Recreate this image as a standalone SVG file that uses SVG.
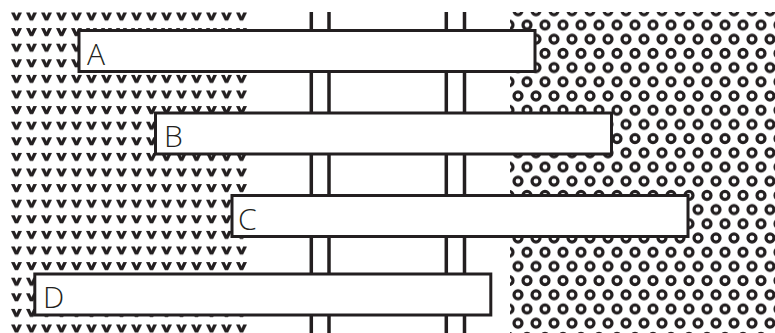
<svg xmlns="http://www.w3.org/2000/svg" width="775" height="333" viewBox="0 0 775 333">
  <style>
    .box { fill: #ffffff; stroke: #231f20; stroke-width: 3; }
    .lbl { font-family: "Open Sans", "Liberation Sans", sans-serif; font-weight: 300; font-size: 30px; fill: #231f20; }
    .vline { stroke: #231f20; stroke-width: 3.5; }
  </style>
  <defs>
    <pattern id="vees" patternUnits="userSpaceOnUse" x="11" y="12.5" width="15" height="15.6">
      <polygon points="0,0 3.7,0 5.5,4 7.3,0 11,0 7.1,8 3.9,8" fill="#231f20"/>
    </pattern>
    <pattern id="rings" patternUnits="userSpaceOnUse" x="500" y="10.8" width="18" height="28.4">
      <g fill="none" stroke="#231f20" stroke-width="3.2">
        <circle cx="9" cy="14.2" r="4"/>
        <circle cx="0" cy="0" r="4"/>
        <circle cx="18" cy="0" r="4"/>
        <circle cx="0" cy="28.4" r="4"/>
        <circle cx="18" cy="28.4" r="4"/>
      </g>
    </pattern>
  </defs>
  <rect width="775" height="333" fill="#ffffff"/>
  <g id="background">
    <rect id="left-texture" x="8" y="12" width="241" height="321" fill="url(#vees)"/>
    <rect id="right-texture" x="510" y="12" width="265" height="321" fill="url(#rings)"/>
  </g>
  <g id="connectors">
    <line class="vline" x1="311.3" y1="12" x2="311.3" y2="333"/>
    <line class="vline" x1="329" y1="12" x2="329" y2="333"/>
    <line class="vline" x1="446.3" y1="12" x2="446.3" y2="333"/>
    <line class="vline" x1="464.5" y1="12" x2="464.5" y2="333"/>
  </g>
  <g id="node-A">
    <rect class="box" x="79" y="30.5" width="456" height="41"/>
    <text class="lbl" x="87" y="64.5">A</text>
  </g>
  <g id="node-B">
    <rect class="box" x="155.5" y="113" width="456" height="41"/>
    <text class="lbl" x="164" y="147">B</text>
  </g>
  <g id="node-C">
    <rect class="box" x="232" y="195.5" width="456" height="41"/>
    <text class="lbl" x="238" y="229.5">C</text>
  </g>
  <g id="node-D">
    <rect class="box" x="34.8" y="274" width="456" height="41"/>
    <text class="lbl" x="43" y="308">D</text>
  </g>
</svg>
